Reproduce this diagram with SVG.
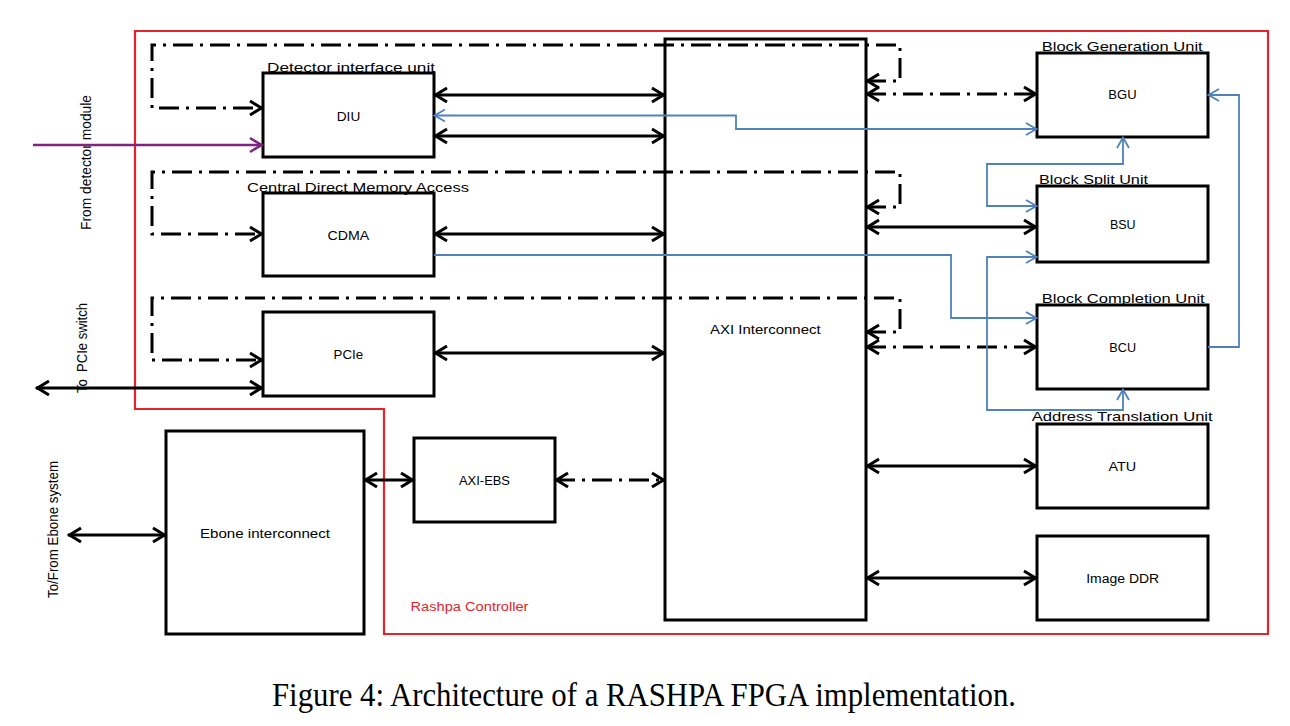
<svg xmlns="http://www.w3.org/2000/svg" width="1290" height="726" viewBox="0 0 1290 726">
<defs>
<style>
.box{fill:#fff;stroke:#000;stroke-width:3}
.t{font-family:"Liberation Sans",Arial,sans-serif;fill:#000}
.in{font-size:12.5px;text-anchor:middle}
.lb{font-size:13.5px}
.side{font-size:14px;text-anchor:middle}
.ln{fill:none;stroke:#000;stroke-width:2.8}
.dd{fill:none;stroke:#000;stroke-width:3;stroke-dasharray:20 7 3 7}
.bl{fill:none;stroke:#4F81BD;stroke-width:1.8}
.pu{fill:none;stroke:#80247F;stroke-width:2.6}
</style>
<marker id="ah" viewBox="-16 -10 20 20" refX="0" refY="0" markerWidth="20" markerHeight="20" markerUnits="userSpaceOnUse" orient="auto-start-reverse">
<path d="M-13,-7 L-1.5,0 L-13,7" fill="none" stroke="#000" stroke-width="3"/>
</marker>
<marker id="ab" viewBox="-14 -9 18 18" refX="0" refY="0" markerWidth="18" markerHeight="18" markerUnits="userSpaceOnUse" orient="auto-start-reverse">
<path d="M-11,-6 L-0.5,0 L-11,6" fill="none" stroke="#4F81BD" stroke-width="1.8"/>
</marker>
<marker id="ap" viewBox="-16 -10 20 20" refX="0" refY="0" markerWidth="20" markerHeight="20" markerUnits="userSpaceOnUse" orient="auto">
<path d="M-13,-7 L-1.5,0 L-13,7" fill="none" stroke="#80247F" stroke-width="2.6"/>
</marker>
</defs>
<rect width="1290" height="726" fill="#fff"/>

<g id="rashpa-controller">
<path d="M135,31 H1268 V634 H384 V409 H135 Z" fill="none" stroke="#E3242B" stroke-width="2.2"/>
<text class="t" x="410.5" y="610.5" font-size="12.5" fill="#E3242B" style="fill:#E3242B" textLength="118" lengthAdjust="spacingAndGlyphs">Rashpa Controller</text>
</g>

<g id="diu">
<rect class="box" x="263" y="73" width="171" height="84"/>
<text class="t lb" x="267" y="72" textLength="168" lengthAdjust="spacingAndGlyphs">Detector interface unit</text>
<text class="t in" x="348.5" y="120.5" textLength="23.5" lengthAdjust="spacingAndGlyphs">DIU</text>
</g>
<g id="cdma">
<rect class="box" x="263" y="193" width="171" height="83"/>
<text class="t lb" x="247" y="191.5" textLength="222" lengthAdjust="spacingAndGlyphs">Central Direct Memory Access</text>
<text class="t in" x="348.3" y="240" textLength="41.7" lengthAdjust="spacingAndGlyphs">CDMA</text>
</g>
<g id="pcie">
<rect class="box" x="263" y="312" width="171" height="84"/>
<text class="t in" x="348.3" y="359" textLength="29.5" lengthAdjust="spacingAndGlyphs">PCIe</text>
</g>
<g id="axi-interconnect">
<rect class="box" x="665" y="39" width="201" height="581"/>
<text class="t in" x="765.3" y="334" textLength="110.6" lengthAdjust="spacingAndGlyphs">AXI Interconnect</text>
</g>
<g id="ebone-interconnect">
<rect class="box" x="166" y="431" width="198" height="203"/>
<text class="t in" x="265" y="538" textLength="130" lengthAdjust="spacingAndGlyphs">Ebone interconnect</text>
</g>
<g id="axi-ebs">
<rect class="box" x="414" y="438" width="141" height="84"/>
<text class="t in" x="484.5" y="485" textLength="51" lengthAdjust="spacingAndGlyphs">AXI-EBS</text>
</g>
<g id="bgu">
<rect class="box" x="1037" y="53" width="171" height="84"/>
<text class="t lb" x="1041.7" y="50.5" textLength="161" lengthAdjust="spacingAndGlyphs">Block Generation Unit</text>
<text class="t in" x="1122.5" y="99" textLength="28.3" lengthAdjust="spacingAndGlyphs">BGU</text>
</g>
<g id="bsu">
<rect class="box" x="1037" y="186" width="171" height="76"/>
<text class="t lb" x="1039" y="183.5" textLength="109" lengthAdjust="spacingAndGlyphs">Block Split Unit</text>
<text class="t in" x="1122.8" y="229" textLength="25.7" lengthAdjust="spacingAndGlyphs">BSU</text>
</g>
<g id="bcu">
<rect class="box" x="1037" y="305" width="171" height="84"/>
<text class="t lb" x="1041.7" y="303" textLength="163" lengthAdjust="spacingAndGlyphs">Block Completion Unit</text>
<text class="t in" x="1122.7" y="351.5" textLength="26.7" lengthAdjust="spacingAndGlyphs">BCU</text>
</g>
<g id="atu">
<rect class="box" x="1037" y="424" width="171" height="84"/>
<text class="t lb" x="1031.7" y="421" textLength="181" lengthAdjust="spacingAndGlyphs">Address Translation Unit</text>
<text class="t in" x="1122.4" y="471" textLength="27.7" lengthAdjust="spacingAndGlyphs">ATU</text>
</g>
<g id="image-ddr">
<rect class="box" x="1037" y="536" width="171" height="84"/>
<text class="t in" x="1122.7" y="582.5" textLength="73" lengthAdjust="spacingAndGlyphs">Image DDR</text>
</g>

<g id="external-labels">
<text class="t side" transform="translate(91,162.5) rotate(-90)" textLength="135" lengthAdjust="spacingAndGlyphs">From detector module</text>
<text class="t side" transform="translate(87,348) rotate(-90)" textLength="90" lengthAdjust="spacingAndGlyphs" style="white-space:pre">To  PCIe switch</text>
<text class="t side" transform="translate(57.5,529.5) rotate(-90)" textLength="137" lengthAdjust="spacingAndGlyphs">To/From Ebone system</text>
</g>

<g id="connectors">
<!-- dash-dot control loops -->
<path class="dd" d="M866,81 H900 V45 H152 V108 H263" marker-start="url(#ah)" marker-end="url(#ah)"/>
<path class="dd" d="M866,207 H900 V172 H152 V234 H263" marker-start="url(#ah)" marker-end="url(#ah)"/>
<path class="dd" d="M866,332 H900 V298 H152 V360 H263" marker-start="url(#ah)" marker-end="url(#ah)"/>
<path class="dd" d="M866,94 H1037" marker-start="url(#ah)" marker-end="url(#ah)"/>
<path class="dd" d="M866,347 H1037" marker-start="url(#ah)" marker-end="url(#ah)"/>
<path class="dd" d="M555,480 H665" marker-start="url(#ah)" marker-end="url(#ah)"/>
<!-- solid bidirectional -->
<path class="ln" d="M434,95 H665" marker-start="url(#ah)" marker-end="url(#ah)"/>
<path class="ln" d="M434,136 H665" marker-start="url(#ah)" marker-end="url(#ah)"/>
<path class="ln" d="M434,234 H665" marker-start="url(#ah)" marker-end="url(#ah)"/>
<path class="ln" d="M434,353 H665" marker-start="url(#ah)" marker-end="url(#ah)"/>
<path class="ln" d="M36,388 H263" marker-start="url(#ah)" marker-end="url(#ah)"/>
<path class="ln" d="M364,480 H414" marker-start="url(#ah)" marker-end="url(#ah)"/>
<path class="ln" d="M68,535 H166" marker-start="url(#ah)" marker-end="url(#ah)"/>
<path class="ln" d="M866,227 H1037" marker-start="url(#ah)" marker-end="url(#ah)"/>
<path class="ln" d="M866,466 H1037" marker-start="url(#ah)" marker-end="url(#ah)"/>
<path class="ln" d="M866,578 H1037" marker-start="url(#ah)" marker-end="url(#ah)"/>
<!-- detector input -->
<path class="pu" d="M33,145 H263" marker-end="url(#ap)"/>
<!-- blue status links -->
<path class="bl" d="M1037,129 H736 V115.5 H434" marker-start="url(#ab)" marker-end="url(#ab)"/>
<path class="bl" d="M434,255 H951 V318 H1037" marker-end="url(#ab)"/>
<path class="bl" d="M1037,206 H987 V164 H1123 V137" marker-start="url(#ab)" marker-end="url(#ab)"/>
<path class="bl" d="M1037,257 H987 V410 H1123 V389" marker-start="url(#ab)" marker-end="url(#ab)"/>
<path class="bl" d="M1208,347 H1239 V95 H1208" marker-end="url(#ab)"/>
</g>

<text id="caption" x="272" y="706" font-family="'Liberation Serif','Times New Roman',serif" font-size="33" textLength="744" lengthAdjust="spacingAndGlyphs" fill="#000">Figure 4: Architecture of a RASHPA FPGA implementation.</text>
</svg>
